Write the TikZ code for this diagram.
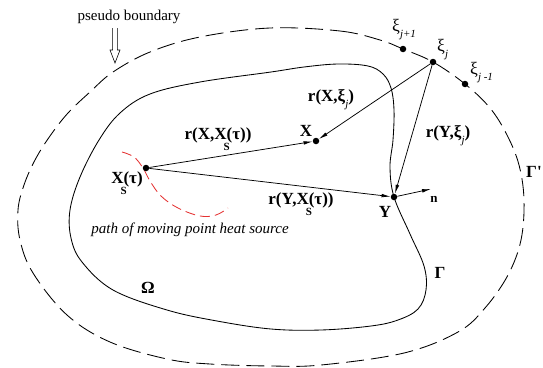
\documentclass[tikz,border=0pt]{standalone}
\usepackage{fontspec}
\setmainfont{Liberation Serif}
\newfontfamily\tnr{Liberation Serif}
\usetikzlibrary{arrows.meta}
\newcommand\lsub[1]{\raisebox{-0.35em}{\fontsize{11}{11}\selectfont\mdseries\itshape #1}}
\newcommand\Ssub{\makebox[0pt]{\raisebox{-0.62em}{\fontsize{11}{11}\selectfont S}}}
\begin{document}
\begin{tikzpicture}[x=1pt,y=-1pt,
  lbl/.style={font=\tnr\fontsize{17}{17}\selectfont\bfseries, inner sep=0pt},
  greek/.style={font=\tnr\fontsize{17.5}{17.5}\selectfont, inner sep=0pt},
  plain/.style={font=\tnr\fontsize{15}{15}\selectfont, inner sep=0pt},
  dot/.style={circle, fill=black, inner sep=0pt, minimum size=6.5pt},
  vec/.style={line width=0.75pt, -{Latex[length=9pt,width=3.6pt]}},
  bnd/.style={line width=0.85pt},
  pseudo/.style={line width=0.85pt, dash pattern=on 18pt off 7pt},
  heatpath/.style={line width=0.85pt, color={rgb,255:red,228;green,50;blue,50}, dash pattern=on 10pt off 5pt}
]
\useasboundingbox (0,0) rectangle (543,367);

% inner boundary Gamma
\draw[bnd] plot[smooth cycle, tension=0.6] coordinates {
 (271,72) (200,82) (150,94) (120,113) (99,140) (80,177) (70,210) (71,238)
 (82,262) (113,290) (167,310) (217,321) (271,329) (321,330) (371,326)
 (398,320) (418,309) (426,290) (424,266) (410,234) (394,197) (390,167)
 (393,140) (394,110) (391,88) (383,74) (368,66) (338,64) (304,67)};

% outer pseudo boundary
\draw[pseudo] plot[smooth cycle, tension=0.6] coordinates {
 (270,28) (340,31) (380,40) (403,49) (433,62) (465,84) (490,108) (507,135)
 (519,165) (524,200) (521,240) (508,275) (485,308) (458,332) (404,353)
 (321,365) (271,366) (210,364) (167,359) (110,342) (67,315) (33,273)
 (20,240) (18,210) (24,185) (35,160) (50,136) (68,113) (90,92) (113,72)
 (150,52) (200,37)};

% path of heat source
\draw[heatpath] plot[smooth, tension=0.6] coordinates {
 (122,152) (134,157) (143,168) (150,181) (161,196) (178,208) (200,216)
 (216,215) (228,208)};

% points
\node[dot] (Xs) at (146,168) {};
\node[dot] (X) at (316,141) {};
\node[dot] (Y) at (394,197) {};
\node[dot] (xj) at (433,62) {};
\node[dot] (xjp) at (403,49) {};
\node[dot] (xjm) at (465,84) {};
\coordinate (nend) at (431,189);

% vectors
\draw[vec] (Xs) -- (X);
\draw[vec] (Xs) -- (Y);
\draw[vec] (xj) -- (X);
\draw[vec] (xj) -- (Y);
\draw[vec] (Y) -- (nend);

% labels
\node[plain] (pb) at (129,17) {pseudo boundary};
\draw[line width=0.6pt] (112.6,28) -- (112.6,50) -- (110,50) -- (115,63)
  -- (120,50) -- (117.4,50) -- (117.4,28);

\node[greek, anchor=base west] (lxjp) at (392,31) {ξ\lsub{j+1}};
\node[greek, anchor=base west] (lxj) at (437,51) {ξ\lsub{j}};
\node[greek, anchor=base west] (lxjm) at (470,74) {ξ\lsub{j -1}};

\node[lbl] (lrXxi) at (331,100) {r(X,ξ\lsub{j})};
\node[lbl] (lX) at (306,131) {X};
\node[lbl] (lrYxi) at (448,136) {r(Y,ξ\lsub{j})};
\node[lbl, anchor=west] (lGp) at (526,172) {Γ'};
\node[lbl] (lrXXs) at (218,139) {r(X,X\Ssub(τ))};
\node[lbl] (lXs) at (127,183) {X\Ssub(τ)};
\node[lbl] (lrYXs) at (301,204) {r(Y,X\Ssub(τ))};
\node[lbl] (lY) at (385,212) {Y};
\node[lbl, font=\tnr\fontsize{13}{13}\selectfont\bfseries] (ln) at (434,199) {n};
\node[lbl] (lG) at (440,273) {Γ};
\node[lbl] (lO) at (148,288) {Ω};
\node[plain, font=\tnr\fontsize{15}{15}\selectfont\itshape] (lpath) at (190,230) {path of moving point heat source};
\end{tikzpicture}
\end{document}
